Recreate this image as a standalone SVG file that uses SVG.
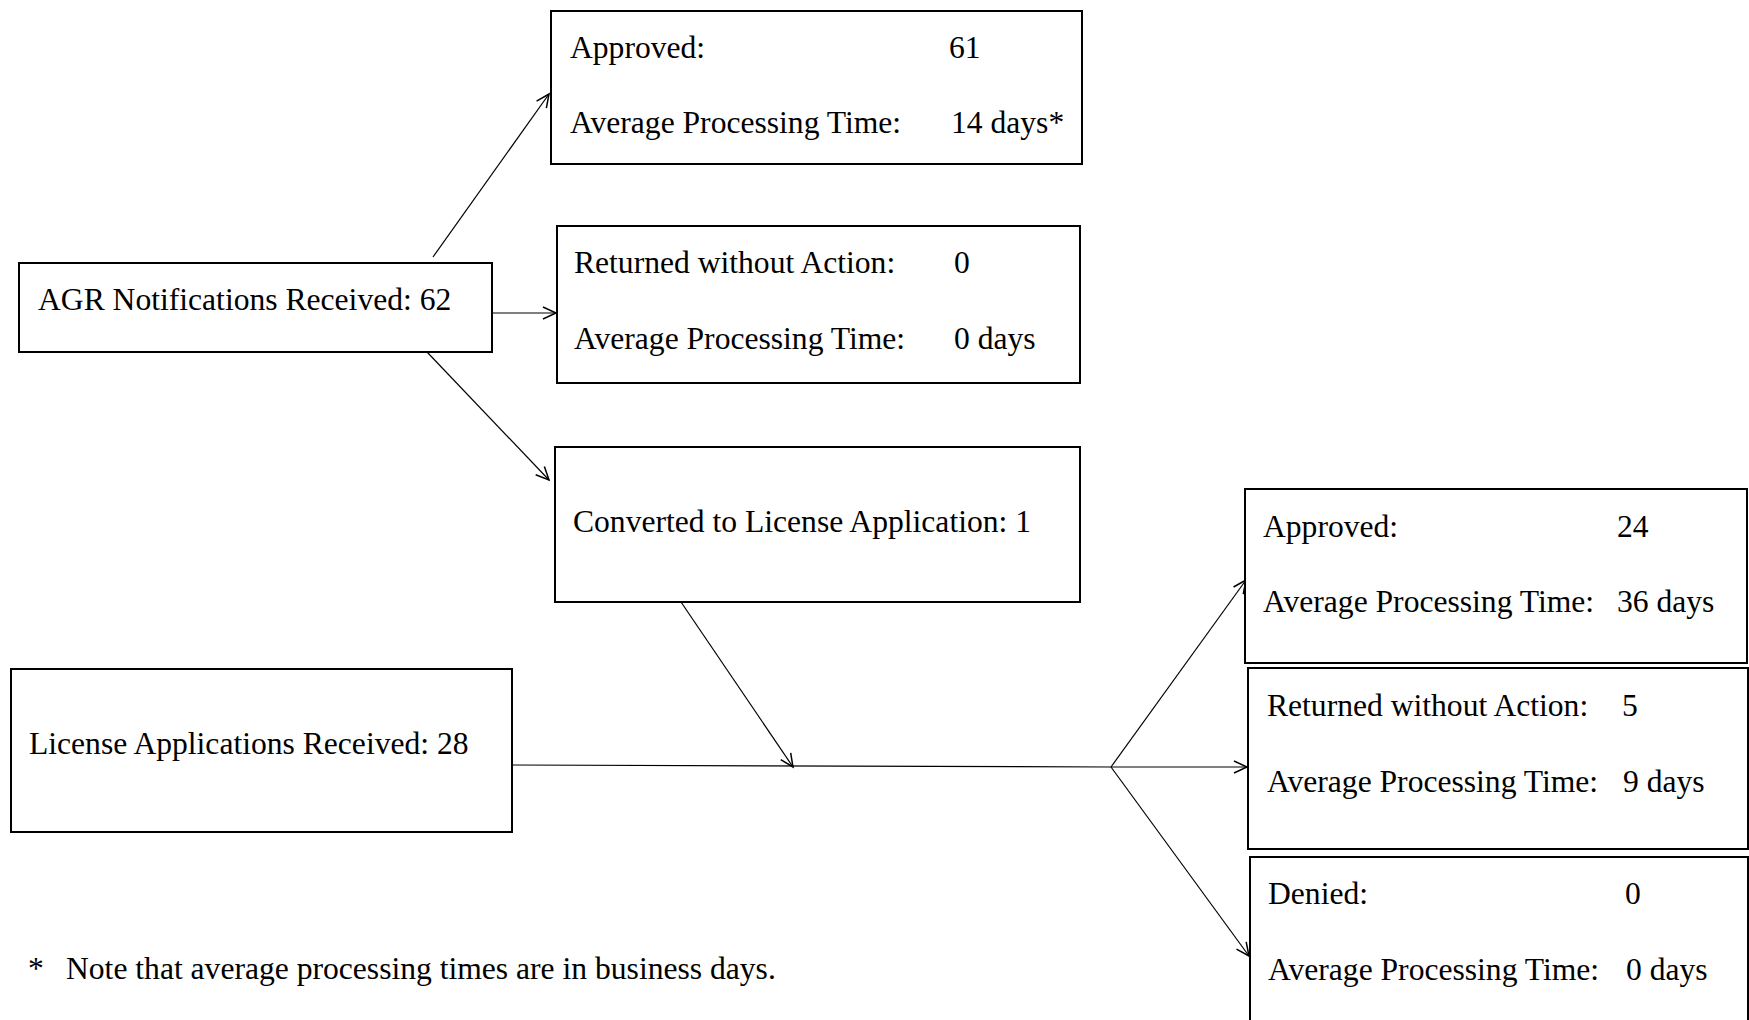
<svg xmlns="http://www.w3.org/2000/svg" width="1749" height="1020" viewBox="0 0 1749 1020">
<style>
.box{fill:#fff;stroke:#000;stroke-width:2}
.t{font-family:"Liberation Serif","Times New Roman",serif;font-size:31.6px;fill:#000}
.c{stroke:#000;stroke-width:1.2;fill:none}
</style>
<defs>
<marker id="arr" markerUnits="userSpaceOnUse" markerWidth="16" markerHeight="16" refX="14" refY="7" orient="auto">
<path d="M1,1 L14,7 L1,13" fill="none" stroke="#000" stroke-width="1.5"/>
</marker>
</defs>
<rect width="1749" height="1020" fill="#fff"/>
<g id="connectors">
<line class="c" x1="433" y1="257" x2="549" y2="94" marker-end="url(#arr)"/>
<line class="c" x1="488" y1="313" x2="556" y2="313" marker-end="url(#arr)"/>
<line class="c" x1="427" y1="352" x2="549" y2="480" marker-end="url(#arr)"/>
<line class="c" x1="681" y1="602" x2="793" y2="767" marker-end="url(#arr)"/>
<line class="c" x1="512" y1="765" x2="1111" y2="767"/>
<line class="c" x1="1111" y1="767" x2="1246" y2="580" marker-end="url(#arr)"/>
<line class="c" x1="1111" y1="767" x2="1247" y2="767" marker-end="url(#arr)"/>
<line class="c" x1="1111" y1="767" x2="1249" y2="956" marker-end="url(#arr)"/>
</g>
<g id="agr-approved">
<rect class="box" x="551" y="11" width="531" height="153"/>
<text class="t" x="570" y="58">Approved:</text>
<text class="t" x="949" y="58">61</text>
<text class="t" x="570" y="133">Average Processing Time:</text>
<text class="t" x="951" y="133">14 days*</text>
</g>
<g id="agr-returned">
<rect class="box" x="557" y="226" width="523" height="157"/>
<text class="t" x="574" y="273">Returned without Action:</text>
<text class="t" x="954" y="273">0</text>
<text class="t" x="574" y="349">Average Processing Time:</text>
<text class="t" x="954" y="349">0 days</text>
</g>
<g id="agr-received">
<rect class="box" x="19" y="263" width="473" height="89"/>
<text class="t" x="38" y="310">AGR Notifications Received: 62</text>
</g>
<g id="converted">
<rect class="box" x="555" y="447" width="525" height="155"/>
<text class="t" x="573" y="532">Converted to License Application: 1</text>
</g>
<g id="license-received">
<rect class="box" x="11" y="669" width="501" height="163"/>
<text class="t" x="29" y="754">License Applications Received: 28</text>
</g>
<g id="lic-approved">
<rect class="box" x="1245" y="489" width="502" height="174"/>
<text class="t" x="1263" y="537">Approved:</text>
<text class="t" x="1617" y="537">24</text>
<text class="t" x="1263" y="612">Average Processing Time:</text>
<text class="t" x="1617" y="612">36 days</text>
</g>
<g id="lic-returned">
<rect class="box" x="1248" y="668" width="500" height="181"/>
<text class="t" x="1267" y="716">Returned without Action:</text>
<text class="t" x="1622" y="716">5</text>
<text class="t" x="1267" y="792">Average Processing Time:</text>
<text class="t" x="1623" y="792">9 days</text>
</g>
<g id="lic-denied">
<rect class="box" x="1250" y="857" width="498" height="180"/>
<text class="t" x="1268" y="904">Denied:</text>
<text class="t" x="1625" y="904">0</text>
<text class="t" x="1268" y="980">Average Processing Time:</text>
<text class="t" x="1626" y="980">0 days</text>
</g>
<g id="footnote">
<text class="t" x="28" y="979">*</text>
<text class="t" x="66" y="979">Note that average processing times are in business days.</text>
</g>
</svg>
